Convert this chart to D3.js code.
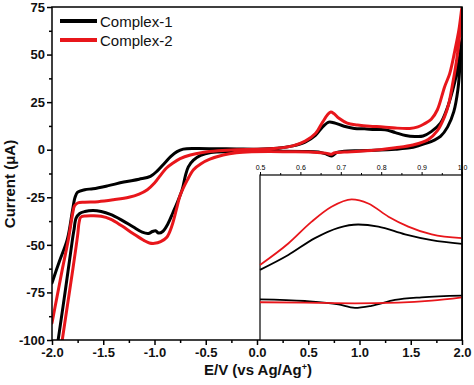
<!DOCTYPE html>
<html>
<head>
<meta charset="utf-8">
<script src="https://cdn.jsdelivr.net/npm/d3@7"></script>
<style>
  html, body { margin: 0; padding: 0; background: #fff; }
  svg { display: block; }
  text { font-family: "Liberation Sans", Arial, sans-serif; }
</style>
</head>
<body>
<svg id="chart" width="474" height="385"></svg>
<script>
// ---------------- DATA ----------------
const seriesNames = ["Complex-1", "Complex-2"];
const seriesColors = ["#000000", "#e8161b"];

const xTicks = [-2.0, -1.5, -1.0, -0.5, 0.0, 0.5, 1.0, 1.5, 2.0];
const yTicks = [-100, -75, -50, -25, 0, 25, 50, 75];
const insetXTicks = [0.5, 0.6, 0.7, 0.8, 0.9, 1.0];

// Full CV loop, Complex-1: [E (V), I (µA)]
const complex1Loop = [
  [-2.0,-70],[-1.93,-59],[-1.85,-47],[-1.8,-32],[-1.775,-25],[-1.75,-22.3],[-1.68,-21],[-1.6,-20.5],
  [-1.46,-19],[-1.3,-17],[-1.15,-15.5],[-1.04,-14],[-0.97,-11],[-0.9,-7],[-0.84,-3.5],[-0.78,-1],
  [-0.72,0.3],[-0.6,0.6],[-0.4,0.5],[-0.2,0.4],[0.0,0.3],[0.2,0.8],[0.35,2],[0.47,4],[0.57,7.5],
  [0.64,12],[0.7,14.5],[0.75,14.2],[0.85,12.3],[0.95,11.2],[1.05,11],[1.15,10.6],[1.25,10.5],
  [1.35,9],[1.45,7.5],[1.54,7],[1.62,7.2],[1.7,9.5],[1.79,14],[1.85,21],[1.91,31.5],[1.95,40.5],
  [1.98,50],[2.0,58],
  [1.98,44],[1.96,31.6],[1.92,20],[1.86,12],[1.79,7],[1.72,4.8],[1.67,3.7],[1.58,2.2],[1.49,1],
  [1.35,0.3],[1.2,-0.2],[1.0,-0.5],[0.85,-0.8],[0.78,-1.4],[0.73,-3.3],[0.68,-2.4],[0.6,-1.2],
  [0.45,-0.9],[0.2,-0.8],[0.0,-0.8],[-0.25,-1],[-0.45,-1.5],[-0.55,-3],[-0.62,-5.5],[-0.67,-9],
  [-0.7,-14],[-0.73,-21],[-0.78,-28],[-0.82,-33],[-0.87,-39],[-0.92,-43],[-0.96,-43.8],[-0.99,-42.6],
  [-1.02,-43],[-1.06,-44],[-1.12,-43.3],[-1.21,-40.5],[-1.32,-37],[-1.43,-34],[-1.52,-32.5],
  [-1.6,-32],[-1.68,-32.5],[-1.73,-33.5],[-1.765,-36],[-1.785,-42],[-1.8,-47],[-1.87,-74],
  [-1.94,-100],[-1.98,-115]
];

// Full CV loop, Complex-2
const complex2Loop = [
  [-2.0,-91],[-1.95,-77],[-1.9,-63],[-1.84,-47],[-1.8,-34],[-1.78,-29.5],[-1.75,-28],[-1.68,-27.6],
  [-1.55,-27.3],[-1.4,-26.3],[-1.25,-25],[-1.15,-23.3],[-1.07,-21],[-1.0,-17.5],[-0.95,-14],
  [-0.88,-9.5],[-0.82,-7],[-0.75,-4.7],[-0.65,-2.8],[-0.53,-1.5],[-0.38,-0.6],[-0.2,0],[0.0,0.2],
  [0.2,0.8],[0.35,2],[0.47,4.5],[0.57,8.5],[0.64,14.5],[0.69,18.5],[0.72,19.8],[0.75,19],[0.8,16.5],
  [0.88,14],[0.98,13],[1.1,12.3],[1.23,12],[1.35,11.4],[1.49,11.2],[1.57,12],[1.63,13.5],[1.7,16],
  [1.76,21],[1.83,33],[1.88,40],[1.93,52],[1.97,63],[2.0,75],
  [1.99,68],[1.98,61.6],[1.95,48],[1.91,35],[1.87,24],[1.83,17.4],[1.76,10],[1.67,5.3],[1.52,2.5],
  [1.35,1],[1.2,0],[1.0,-0.8],[0.85,-1.2],[0.76,-1.6],[0.72,-2.4],[0.67,-1.8],[0.55,-1.3],[0.3,-1.1],
  [0.13,-1],[-0.05,-1.1],[-0.2,-1.6],[-0.33,-2.8],[-0.46,-5],[-0.55,-7.5],[-0.62,-10.5],[-0.68,-16],
  [-0.75,-24],[-0.78,-30],[-0.83,-40],[-0.88,-46],[-0.94,-48.3],[-1.0,-49.2],[-1.05,-49],[-1.1,-47.8],
  [-1.21,-44],[-1.32,-40],[-1.43,-36.5],[-1.52,-35],[-1.6,-34.7],[-1.67,-34.8],[-1.72,-35.5],
  [-1.735,-38],[-1.75,-45],[-1.8,-64],[-1.85,-82],[-1.9,-100],[-1.94,-115]
];

// Inset (0.5–1.0 V), arbitrary current units
const inset1Forward = [[0.5,7.0],[0.57,10.6],[0.636,14.7],[0.694,17.2],[0.743,18.0],[0.793,17.5],[0.859,15.6],[0.925,14.2],[1.0,13.3]];
const inset1Reverse = [[0.5,-0.13],[0.611,-0.55],[0.694,-1.36],[0.735,-2.2],[0.776,-1.7],[0.834,-0.3],[0.9,0.35],[1.0,0.75]];
const inset2Forward = [[0.5,8.2],[0.57,13.4],[0.628,18.7],[0.677,22.3],[0.727,24.1],[0.768,23.1],[0.818,19.9],[0.867,17.5],[0.925,15.6],[1.0,14.7]];
const inset2Reverse = [[0.5,-0.85],[0.611,-0.95],[0.735,-1.1],[0.842,-0.95],[0.925,-0.47],[1.0,0.35]];

// ---------------- CHART ----------------
const svg = d3.select("#chart");
const x = d3.scaleLinear().domain([-2, 2]).range([52, 462]);
const y = d3.scaleLinear().domain([-100, 75]).range([340, 7]);

svg.append("defs").append("clipPath").attr("id", "plotClip")
  .append("rect").attr("x", x(-2)).attr("y", y(75))
  .attr("width", x(2) - x(-2)).attr("height", y(-100) - y(75));

const line = d3.line().x(d => x(d[0])).y(d => y(d[1])).curve(d3.curveCatmullRom.alpha(0.5));

const curves = svg.append("g").attr("clip-path", "url(#plotClip)");
[complex1Loop, complex2Loop].forEach((loop, i) => {
  curves.append("path").datum(loop)
    .attr("d", line).attr("fill", "none")
    .attr("stroke", seriesColors[i]).attr("stroke-width", 3)
    .attr("stroke-linejoin", "round").attr("stroke-linecap", "round");
});

// Frame
svg.append("rect").attr("x", x(-2)).attr("y", y(75))
  .attr("width", x(2) - x(-2)).attr("height", y(-100) - y(75))
  .attr("fill", "none").attr("stroke", "#000").attr("stroke-width", 1.5);

// Axes
const tickFont = "bold 13px 'Liberation Sans', Arial, sans-serif";
const xAxis = svg.append("g").attr("transform", `translate(0,${y(-100)})`)
  .call(d3.axisBottom(x).tickValues(xTicks).tickSize(5).tickPadding(3).tickFormat(d => d.toFixed(1)));
const xMinor = svg.append("g").attr("transform", `translate(0,${y(-100)})`)
  .call(d3.axisBottom(x).tickValues(d3.range(-1.75, 2, 0.5)).tickSize(3).tickFormat(""));
const yAxis = svg.append("g").attr("transform", `translate(${x(-2)},0)`)
  .call(d3.axisLeft(y).tickValues(yTicks).tickSize(5).tickPadding(2).tickFormat(d => String(d)));
const yMinor = svg.append("g").attr("transform", `translate(${x(-2)},0)`)
  .call(d3.axisLeft(y).tickValues(d3.range(-87.5, 75, 25)).tickSize(3).tickFormat(""));
[xAxis, xMinor, yAxis, yMinor].forEach(g => {
  g.select(".domain").remove();
  g.selectAll(".tick line").attr("stroke", "#000").attr("stroke-width", 1.5);
  g.selectAll(".tick text").style("font", tickFont).attr("fill", "#111");
});

// Axis titles
const xt = svg.append("text").attr("x", 258).attr("y", 375).attr("text-anchor", "middle")
  .style("font", "bold 15px 'Liberation Sans', Arial, sans-serif").attr("fill", "#111");
xt.append("tspan").text("E/V (vs Ag/Ag");
xt.append("tspan").attr("dy", -5).style("font-size", "9px").text("+");
xt.append("tspan").attr("dy", 5).text(")");

svg.append("text").attr("transform", "translate(15,184) rotate(-90)").attr("text-anchor", "middle")
  .style("font", "bold 15px 'Liberation Sans', Arial, sans-serif").attr("fill", "#111")
  .text("Current (μA)");

// Legend
const legendY = [21, 40];
seriesNames.forEach((name, i) => {
  svg.append("line").attr("x1", 60).attr("x2", 97).attr("y1", legendY[i]).attr("y2", legendY[i])
    .attr("stroke", seriesColors[i]).attr("stroke-width", 4);
  svg.append("text").attr("x", 100).attr("y", legendY[i] + 5.5)
    .style("font", "15px 'Liberation Sans', Arial, sans-serif").attr("fill", "#111").text(name);
});

// ---------------- INSET ----------------
const ix = d3.scaleLinear().domain([0.5, 1.0]).range([260, 462]);
const iy = d3.scaleLinear().domain([-10, 30]).range([340, 175]);
const inset = svg.append("g");
inset.append("rect").attr("x", 260).attr("y", 175).attr("width", 202).attr("height", 165)
  .attr("fill", "#fff").attr("stroke", "#000").attr("stroke-width", 1.2);

const iline = d3.line().x(d => ix(d[0])).y(d => iy(d[1])).curve(d3.curveMonotoneX);
[[inset1Forward, 0], [inset1Reverse, 0], [inset2Forward, 1], [inset2Reverse, 1]].forEach(([data, i]) => {
  inset.append("path").datum(data).attr("d", iline).attr("fill", "none")
    .attr("stroke", seriesColors[i]).attr("stroke-width", 1.8);
});

const iAxis = inset.append("g").attr("transform", "translate(0,175)")
  .call(d3.axisTop(ix).tickValues(insetXTicks).tickSize(3).tickPadding(2).tickFormat(d => d.toFixed(1)));
const iMinor = inset.append("g").attr("transform", "translate(0,175)")
  .call(d3.axisTop(ix).tickValues(d3.range(0.55, 1.0, 0.1)).tickSize(2).tickFormat(""));
[iAxis, iMinor].forEach(g => {
  g.select(".domain").remove();
  g.selectAll(".tick line").attr("stroke", "#000").attr("stroke-width", 1);
  g.selectAll(".tick text").style("font", "7px 'Liberation Sans', Arial, sans-serif").attr("fill", "#000");
});

// redraw right frame edge over inset
svg.append("line").attr("x1", 462).attr("x2", 462).attr("y1", 7).attr("y2", 340)
  .attr("stroke", "#000").attr("stroke-width", 1.5);
</script>
</body>
</html>
